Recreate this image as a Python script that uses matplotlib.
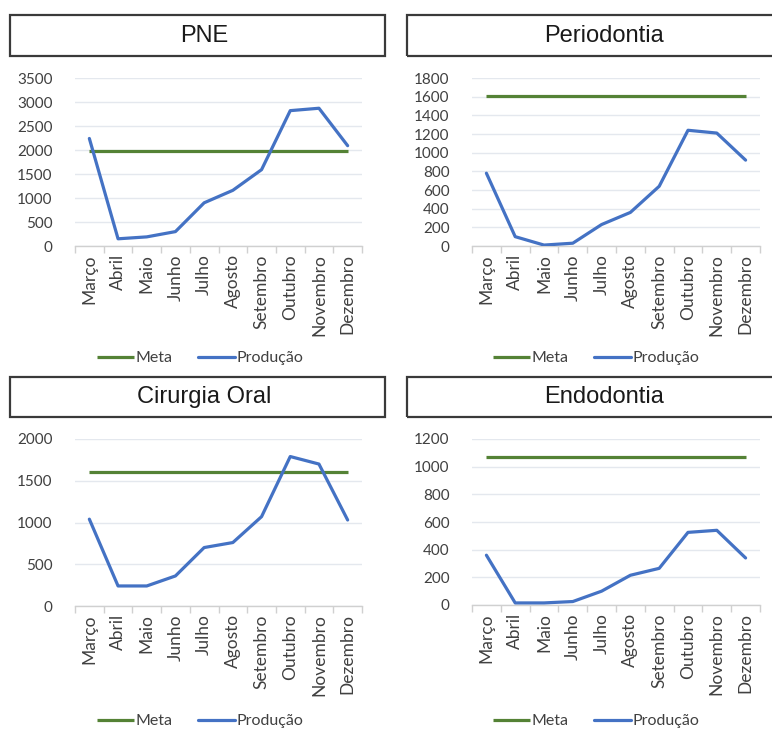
import matplotlib
matplotlib.use("Agg")
import matplotlib.pyplot as plt
from matplotlib.patches import Rectangle
from matplotlib.ticker import MultipleLocator, FixedLocator

meses = ["Março", "Abril", "Maio", "Junho", "Julho", "Agosto",
         "Setembro", "Outubro", "Novembro", "Dezembro"]

pne_meta = 1980
pne_prod = [2240, 150, 190, 300, 900, 1160, 1590, 2820, 2870, 2090]

perio_meta = 1610
perio_prod = [780, 100, 10, 30, 230, 360, 640, 1240, 1210, 920]

cir_meta = 1610
cir_prod = [1040, 240, 240, 360, 700, 760, 1070, 1790, 1700, 1030]

endo_meta = 1070
endo_prod = [360, 15, 15, 25, 100, 215, 265, 525, 540, 340]

titles = ["PNE", "Periodontia", "Cirurgia Oral", "Endodontia"]
metas = [pne_meta, perio_meta, cir_meta, endo_meta]
prods = [pne_prod, perio_prod, cir_prod, endo_prod]
ymaxs = [3500, 1800, 2000, 1200]
ysteps = [500, 200, 500, 200]

W, H = 772, 729
fig = plt.figure(figsize=(W / 100, H / 100), dpi=100)
fig.patch.set_facecolor("white")

TICK_FONT = ["Lato", "DejaVu Sans"]
GREEN = "#548235"
BLUE = "#4472C4"

# pixel layouts: axes (left, top, right, bottom), title box (left, top, right, bottom),
# title centre x, legend center (x, y)
axes_px = [(75, 78, 362, 246), (472, 78, 760, 246), (75, 439, 362, 606), (472, 439, 760, 605)]
box_px = [(10, 15, 385, 56), (407, 15, 790, 56), (10, 377, 385, 417), (407, 377, 790, 417)]
title_cx = [204, 604, 204, 604]
leg_px = [(200, 358), (596, 358), (200, 721), (596, 721)]

for i in range(4):
    l, t, r, b = axes_px[i]
    ax = fig.add_axes([l / W, 1 - b / H, (r - l) / W, (b - t) / H])
    x = list(range(len(meses)))
    ax.plot(x, [metas[i]] * len(meses), color=GREEN, lw=2.3, label="Meta",
            solid_capstyle="butt", zorder=3)
    ax.plot(x, prods[i], color=BLUE, lw=2.3, label="Produção",
            solid_capstyle="round", solid_joinstyle="round", zorder=4)
    ax.set_xlim(-0.5, len(meses) - 0.5)
    ax.set_ylim(0, ymaxs[i])
    ax.yaxis.set_major_locator(MultipleLocator(ysteps[i]))
    ax.grid(axis="y", color="#e4e8ee", lw=1.0, zorder=0)
    ax.set_axisbelow(True)
    for s in ["top", "right", "left"]:
        ax.spines[s].set_visible(False)
    ax.spines["bottom"].set_color("#d0d0d0")
    ax.spines["bottom"].set_linewidth(1.0)
    ax.set_xticks(x)
    ax.set_xticklabels(meses, rotation=90, fontsize=12.5, family=TICK_FONT, color="#404040")
    ax.xaxis.set_minor_locator(FixedLocator([k - 0.5 for k in range(len(meses) + 1)]))
    ax.tick_params(axis="x", which="major", length=0, pad=6)
    ax.tick_params(axis="x", which="minor", length=5, color="#d0d0d0", width=1.0)
    ax.tick_params(axis="y", length=0, pad=16, labelsize=11, labelcolor="#404040")
    for lab in ax.get_yticklabels():
        lab.set_family(TICK_FONT)
    ax.set_facecolor("white")

    lx, ly = leg_px[i]
    ax.legend(loc="center", bbox_to_anchor=(lx / W, 1 - ly / H), bbox_transform=fig.transFigure,
              ncol=2, frameon=False, handlelength=2.3, columnspacing=1.6, handletextpad=0.1,
              prop={"family": TICK_FONT, "size": 11.5}, labelcolor="#404040")

    bl, bt, br, bb = box_px[i]
    rect = Rectangle((bl / W, 1 - bb / H), (br - bl) / W, (bb - bt) / H,
                     transform=fig.transFigure, fill=False, edgecolor="#3a3a3a", lw=1.6,
                     clip_on=False)
    fig.patches.append(rect)
    fig.text(title_cx[i] / W, 1 - ((bt + bb) / 2) / H, titles[i],
             ha="center", va="center", fontsize=17, family=["Liberation Sans", "DejaVu Sans"],
             color="#1a1a1a")

fig.savefig("out.png", dpi=100, facecolor="white")
